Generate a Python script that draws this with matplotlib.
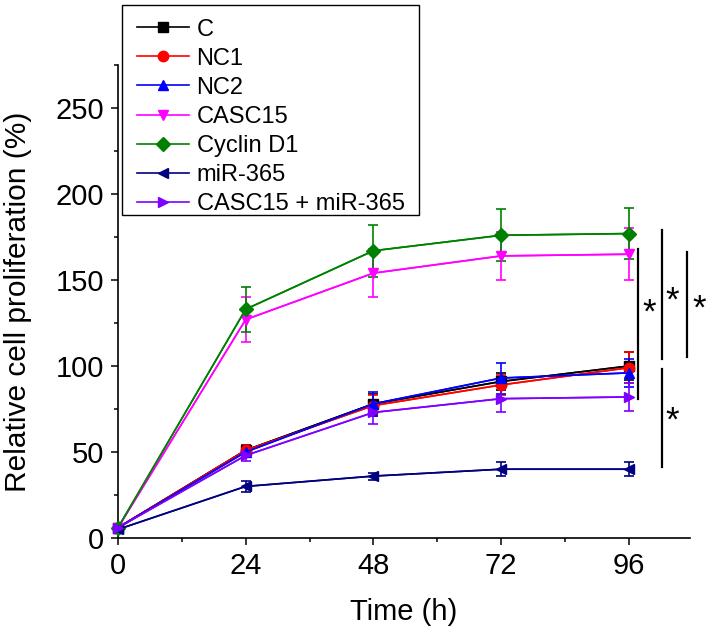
import matplotlib
matplotlib.use("Agg")
import matplotlib.pyplot as plt
from matplotlib.patches import Rectangle
from matplotlib.ticker import MultipleLocator

plt.rcParams['font.family'] = ['Liberation Sans', 'DejaVu Sans']

# ------------------------------------------------------------
# Dati
# ------------------------------------------------------------
time_h = [0, 24, 48, 72, 96]

labels = ["C", "NC1", "NC2", "CASC15", "Cyclin D1", "miR-365", "CASC15 + miR-365"]
colors = ["black", "red", "blue", "magenta", "green", "navy", "#8000ff"]
markers = ["s", "o", "^", "v", "D", "<", ">"]

c_mean = [6, 51, 78, 91, 100]
c_err = [1, 3, 6, 5, 8]
nc1_mean = [6, 51, 77, 89, 99]
nc1_err = [1, 3, 6, 6, 9]
nc2_mean = [6, 50, 78, 93, 96]
nc2_err = [1, 3, 7, 9, 8]
casc15_mean = [6, 127, 154, 164, 165]
casc15_err = [1, 13, 14, 14, 15]
cyclin_mean = [6, 133, 167, 176, 177]
cyclin_err = [1, 13, 15, 15, 15]
mir_mean = [5, 30, 36, 40, 40]
mir_err = [1, 3, 2, 4, 4]
combo_mean = [6, 48, 73, 81, 82]
combo_err = [1, 3, 7, 8, 8]

means = [c_mean, nc1_mean, nc2_mean, casc15_mean, cyclin_mean, mir_mean, combo_mean]
errs = [c_err, nc1_err, nc2_err, casc15_err, cyclin_err, mir_err, combo_err]

# barre di significativita': (x, y_basso, y_alto) e asterischi (x, y)
sig_x = [97.8, 102.3, 102.3, 107.0]
sig_lo = [81, 104, 41, 105]
sig_hi = [168, 179, 98.5, 166]
star_x = [99.8, 104.2, 104.2, 109.2]
star_y = [131, 138, 68, 133]

# ------------------------------------------------------------
# Plot
# ------------------------------------------------------------
W, H = 708, 641
fig = plt.figure(figsize=(W / 100, H / 100), dpi=100)
ax = fig.add_axes([118 / W, 1 - 538 / H, (690 - 118) / W, (538 - 65) / H])

handles = []
for m, e, lab, col, mk in zip(means, errs, labels, colors, markers):
    ax.errorbar(time_h, m, yerr=e, color=col, lw=1.2, capsize=3.5, capthick=1.2,
                elinewidth=1.2, marker=None, clip_on=False, zorder=2)
    h, = ax.plot(time_h, m, color=col, lw=1.2, marker=mk, markersize=7.5,
                 clip_on=False, zorder=3, label=lab)
    handles.append(h)

for x, lo, hi in zip(sig_x, sig_lo, sig_hi):
    ax.plot([x, x], [lo, hi], color="black", lw=1.6, clip_on=False)
for x, y in zip(star_x, star_y):
    ax.text(x, y, "*", fontsize=25, ha="center", va="center", clip_on=False)

ax.set_xlim(0, 107.5)
ax.set_ylim(0, 275)
ax.xaxis.set_major_locator(MultipleLocator(24))
ax.xaxis.set_minor_locator(MultipleLocator(12))
ax.yaxis.set_major_locator(MultipleLocator(50))
ax.yaxis.set_minor_locator(MultipleLocator(25))

for s in ["top", "right"]:
    ax.spines[s].set_visible(False)
for s in ["left", "bottom"]:
    ax.spines[s].set_linewidth(1.2)

ax.tick_params(which="major", direction="out", length=5, width=1.1, labelsize=21, pad=5)
ax.tick_params(which="minor", direction="out", length=3, width=1.1)

ax.set_xlabel("Time (h)", fontsize=21)
ax.set_ylabel("Relative cell proliferation (%)", fontsize=21.5)
ax.xaxis.set_label_coords(0.5, -0.127)
ax.yaxis.set_label_coords(-0.150, 0.5)

# legenda senza cornice + riquadro disegnato a parte
fig.legend(handles=handles, loc="upper left", bbox_to_anchor=(129 / W, 1 - 11 / H),
           fontsize=17, handlelength=2.2, labelspacing=0.3, borderpad=0.32,
           handletextpad=0.34, borderaxespad=0, frameon=False)
fig.patches.append(Rectangle((122 / W, 1 - 215 / H), (419 - 122) / W, (215 - 5) / H,
                             transform=fig.transFigure, fill=False, edgecolor="black",
                             linewidth=1.0))

fig.savefig("out.png", dpi=100)
